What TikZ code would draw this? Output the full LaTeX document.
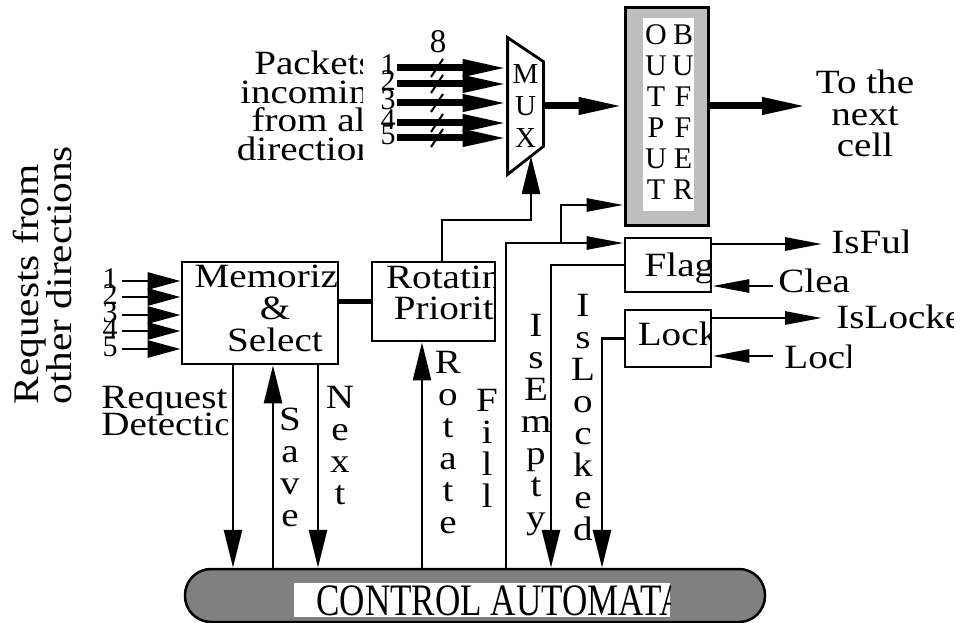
\documentclass[tikz,border=0pt]{standalone}
\usepackage{fontspec}
\setmainfont[FakeStretch=1.15]{Liberation Serif}
\newfontfamily\narrowserif[FakeStretch=0.78]{Liberation Serif}
\newfontfamily\plainserif{Liberation Serif}
\usetikzlibrary{arrows.meta}
\definecolor{bufgray}{HTML}{BEBEBE}
\definecolor{ctrlgray}{HTML}{808080}

\begin{document}
\lineskiplimit=-50pt
\begin{tikzpicture}[x=1pt, y=-1pt, line width=2.8pt,
  txt/.style={inner sep=0pt, minimum size=0pt, font=\fontsize{34}{32}\selectfont},
  vlbl/.style={txt, align=center, anchor=north},
  digit/.style={inner sep=0pt, minimum size=0pt, font=\plainserif\fontsize{30}{30}\selectfont},
  blk/.style={draw, line width=2.8pt, inner sep=0pt},
  arr/.style={-{Triangle[length=38pt,width=18pt]}},
  sarr/.style={-{Triangle[length=37pt,width=13pt]}},
  fatarr/.style={line width=7pt, -{Triangle[length=45pt,width=16pt]}}
]
\useasboundingbox (0,0) rectangle (961,623);

% left side label
\node[txt, rotate=90, anchor=north west, align=left,
      font=\fontsize{36}{33}\selectfont] (reqdirs) at (12,406) {Requests from\\other directions};

% memorize & select block
\node[blk, minimum width=156pt, minimum height=102pt,
  path picture={\node[txt, align=center, anchor=north] at ([xshift=15pt,yshift=-2pt]path picture bounding box.north) {Memorize\\\&\\Select};}] (mem) at (260,313) {};
\foreach \i/\y in {1/281,2/297,3/315,4/331,5/349} {
  \coordinate (rin\i) at (122,\y);
  \draw[-{Triangle[length=33pt,width=17pt]}] (rin\i) -- (rin\i -| mem.west);
  \node[digit] (rnum\i) at (110,\y-2) {\i};
}

% rotating priority
\node[blk, minimum width=123pt, minimum height=79pt,
  path picture={\node[txt, align=center, anchor=north, font=\fontsize{34}{31}\selectfont] at ([xshift=20pt,yshift=-3pt]path picture bounding box.north) {Rotating\\Priority};}] (rot) at (433.5,301.5) {};
\draw[line width=5pt] (rot.west -| mem.east) -- (rot.west);

% multiplexer
\node[inner sep=0pt, minimum width=33pt, minimum height=134pt, align=center,
      font=\plainserif\fontsize{29}{32}\selectfont] (mux) at (525.5,106) {M\\U\\X};
\draw (mux.north west) -- ([yshift=-24pt]mux.north east) -- ([yshift=28pt]mux.south east) -- (mux.south west) -- cycle;
\node[digit, font=\plainserif\fontsize{33}{33}\selectfont] (width8) at (438,42) {8};
\foreach \i/\y in {1/68,2/84,3/103,4/123,5/138} {
  \coordinate (pin\i) at (397,\y);
  \draw[fatarr] (pin\i) -- (pin\i -| mux.west);
  \draw[line width=2pt] (431,\y+9) -- (443,\y-9);
  \node[digit] (pnum\i) at (388,\y-3) {\i};
}
\begin{scope}
  \clip (200,40) rectangle (362,175);
  \node[txt, align=center, anchor=north, font=\fontsize{34}{28.5}\selectfont] (packets) at (314,50) {Packets\\incoming\\from all\\directions};
\end{scope}

% output buffer
\node[draw, line width=3pt, fill=bufgray, minimum width=83pt, minimum height=217pt] (buf) at (666.5,116.5) {};
\node[fill=white, inner sep=0pt, minimum width=51pt, minimum height=193pt] (bufin) at (668.5,114.5) {};
\foreach \l/\r [count=\i] in {O/B,U/U,T/F,P/F,U/E,T/R} {
  \node[digit] (bufl\i) at (656,4+31*\i) {\l};
  \node[digit] (bufr\i) at (683,4+31*\i) {\r};
}
\draw[fatarr] (mux.east) -- (mux.east -| buf.west);
\coordinate (outpt) at (807,106);
\draw[fatarr] (buf.east |- mux.east) -- (outpt);
\node[txt, align=center, anchor=north, font=\fontsize{34}{31.5}\selectfont] (nextcell) at (865,69) {To the\\next\\cell};

% flags and lock
\node[blk, minimum width=86pt, minimum height=54pt,
  path picture={\node[txt, anchor=north] at ([xshift=19pt,yshift=-14pt]path picture bounding box.north) {Flags};}] (flag) at (668,265) {};
\node[blk, minimum width=86pt, minimum height=57pt,
  path picture={\node[txt, anchor=north] at ([xshift=10pt,yshift=-11pt]path picture bounding box.north) {Lock};}] (lock) at (668,338.5) {};
\coordinate (fullpt) at (822,244);
\coordinate (clearpt) at (773,286);
\coordinate (lockedpt) at (822,318);
\coordinate (lockpt) at (773,356);
\draw[sarr] (fullpt -| flag.east) -- (fullpt);
\draw[sarr] (clearpt) -- (clearpt -| flag.east);
\draw[sarr] (lockedpt -| lock.east) -- (lockedpt);
\draw[sarr] (lockpt) -- (lockpt -| lock.east);
\begin{scope}
  \clip (826,200) rectangle (907,262);
  \node[txt, anchor=base west] (isfull) at (830,253) {IsFull};
\end{scope}
\begin{scope}
  \clip (774,262) rectangle (848,300);
  \node[txt, anchor=base west] (clear) at (777,292) {Clear};
\end{scope}
\begin{scope}
  \clip (831,295) rectangle (953,340);
  \node[txt, anchor=base west] (islocked) at (835,328) {IsLocked};
\end{scope}
\begin{scope}
  \clip (779,335) rectangle (850,380);
  \node[txt, anchor=base west] (lockin) at (783,368) {Lock};
\end{scope}

% control automata
\node[draw, line width=2.5pt, fill=ctrlgray, rounded corners=26pt, minimum width=580pt, minimum height=53pt] (ctrl) at (475,595.5) {};
\node[fill=white, inner sep=0pt, minimum width=376pt, minimum height=34pt,
  path picture={\node[inner sep=0pt, minimum size=0pt, anchor=base west, font=\narrowserif\fontsize{45}{45}\selectfont] at ([xshift=21pt,yshift=2pt]path picture bounding box.south west) {CONTROL AUTOMATA};}] (ctrltxt) at (482,600) {};

% control signals
\coordinate (xdet) at (233,0);
\coordinate (xsave) at (273,0);
\coordinate (xnext) at (318,0);
\coordinate (xrotate) at (422,0);
\coordinate (xprio) at (442,0);
\coordinate (xfill) at (506,0);
\coordinate (xempty) at (551,0);
\coordinate (xlocked) at (602,0);
\coordinate (selknee) at (531,220);
\coordinate (seltip) at (531,156);
\coordinate (fillpt) at (561,243);
\coordinate (bufpt) at (561,205);
\draw[arr] (xdet |- mem.south) -- (xdet |- ctrl.north);
\draw[arr] (xsave |- ctrl.north) -- (xsave |- mem.south);
\draw[arr] (xnext |- mem.south) -- (xnext |- ctrl.north);
\draw[arr] (xrotate |- ctrl.north) -- (xrotate |- rot.south);
\draw[arr] (xprio |- rot.north) |- (selknee) -- (seltip);
\draw[sarr] (xfill |- ctrl.north) |- (fillpt -| flag.west);
\draw[sarr] (fillpt) |- (bufpt -| buf.west);
\draw[arr] (flag.west) -| (xempty |- ctrl.north);
\draw[arr] (lock.west) -| (xlocked |- ctrl.north);
\begin{scope}
  \clip (90,375) rectangle (227,455);
  \node[txt, align=left, anchor=north west, font=\fontsize{34}{27}\selectfont] (reqdet) at (100,385) {Request\\Detection};
\end{scope}
\node[vlbl] (savelbl) at (290,407) {S\\a\\v\\e};
\node[vlbl] (nextlbl) at (340,385) {N\\e\\x\\t};
\node[vlbl] (rotlbl) at (448,350) {R\\o\\t\\a\\t\\e};
\node[vlbl] (filllbl) at (487,388) {F\\i\\l\\l};
\node[vlbl] (emptylbl) at (536,313) {I\\s\\E\\m\\p\\t\\y};
\node[vlbl] (lockedlbl) at (583,293) {I\\s\\L\\o\\c\\k\\e\\d};
\end{tikzpicture}
\end{document}
